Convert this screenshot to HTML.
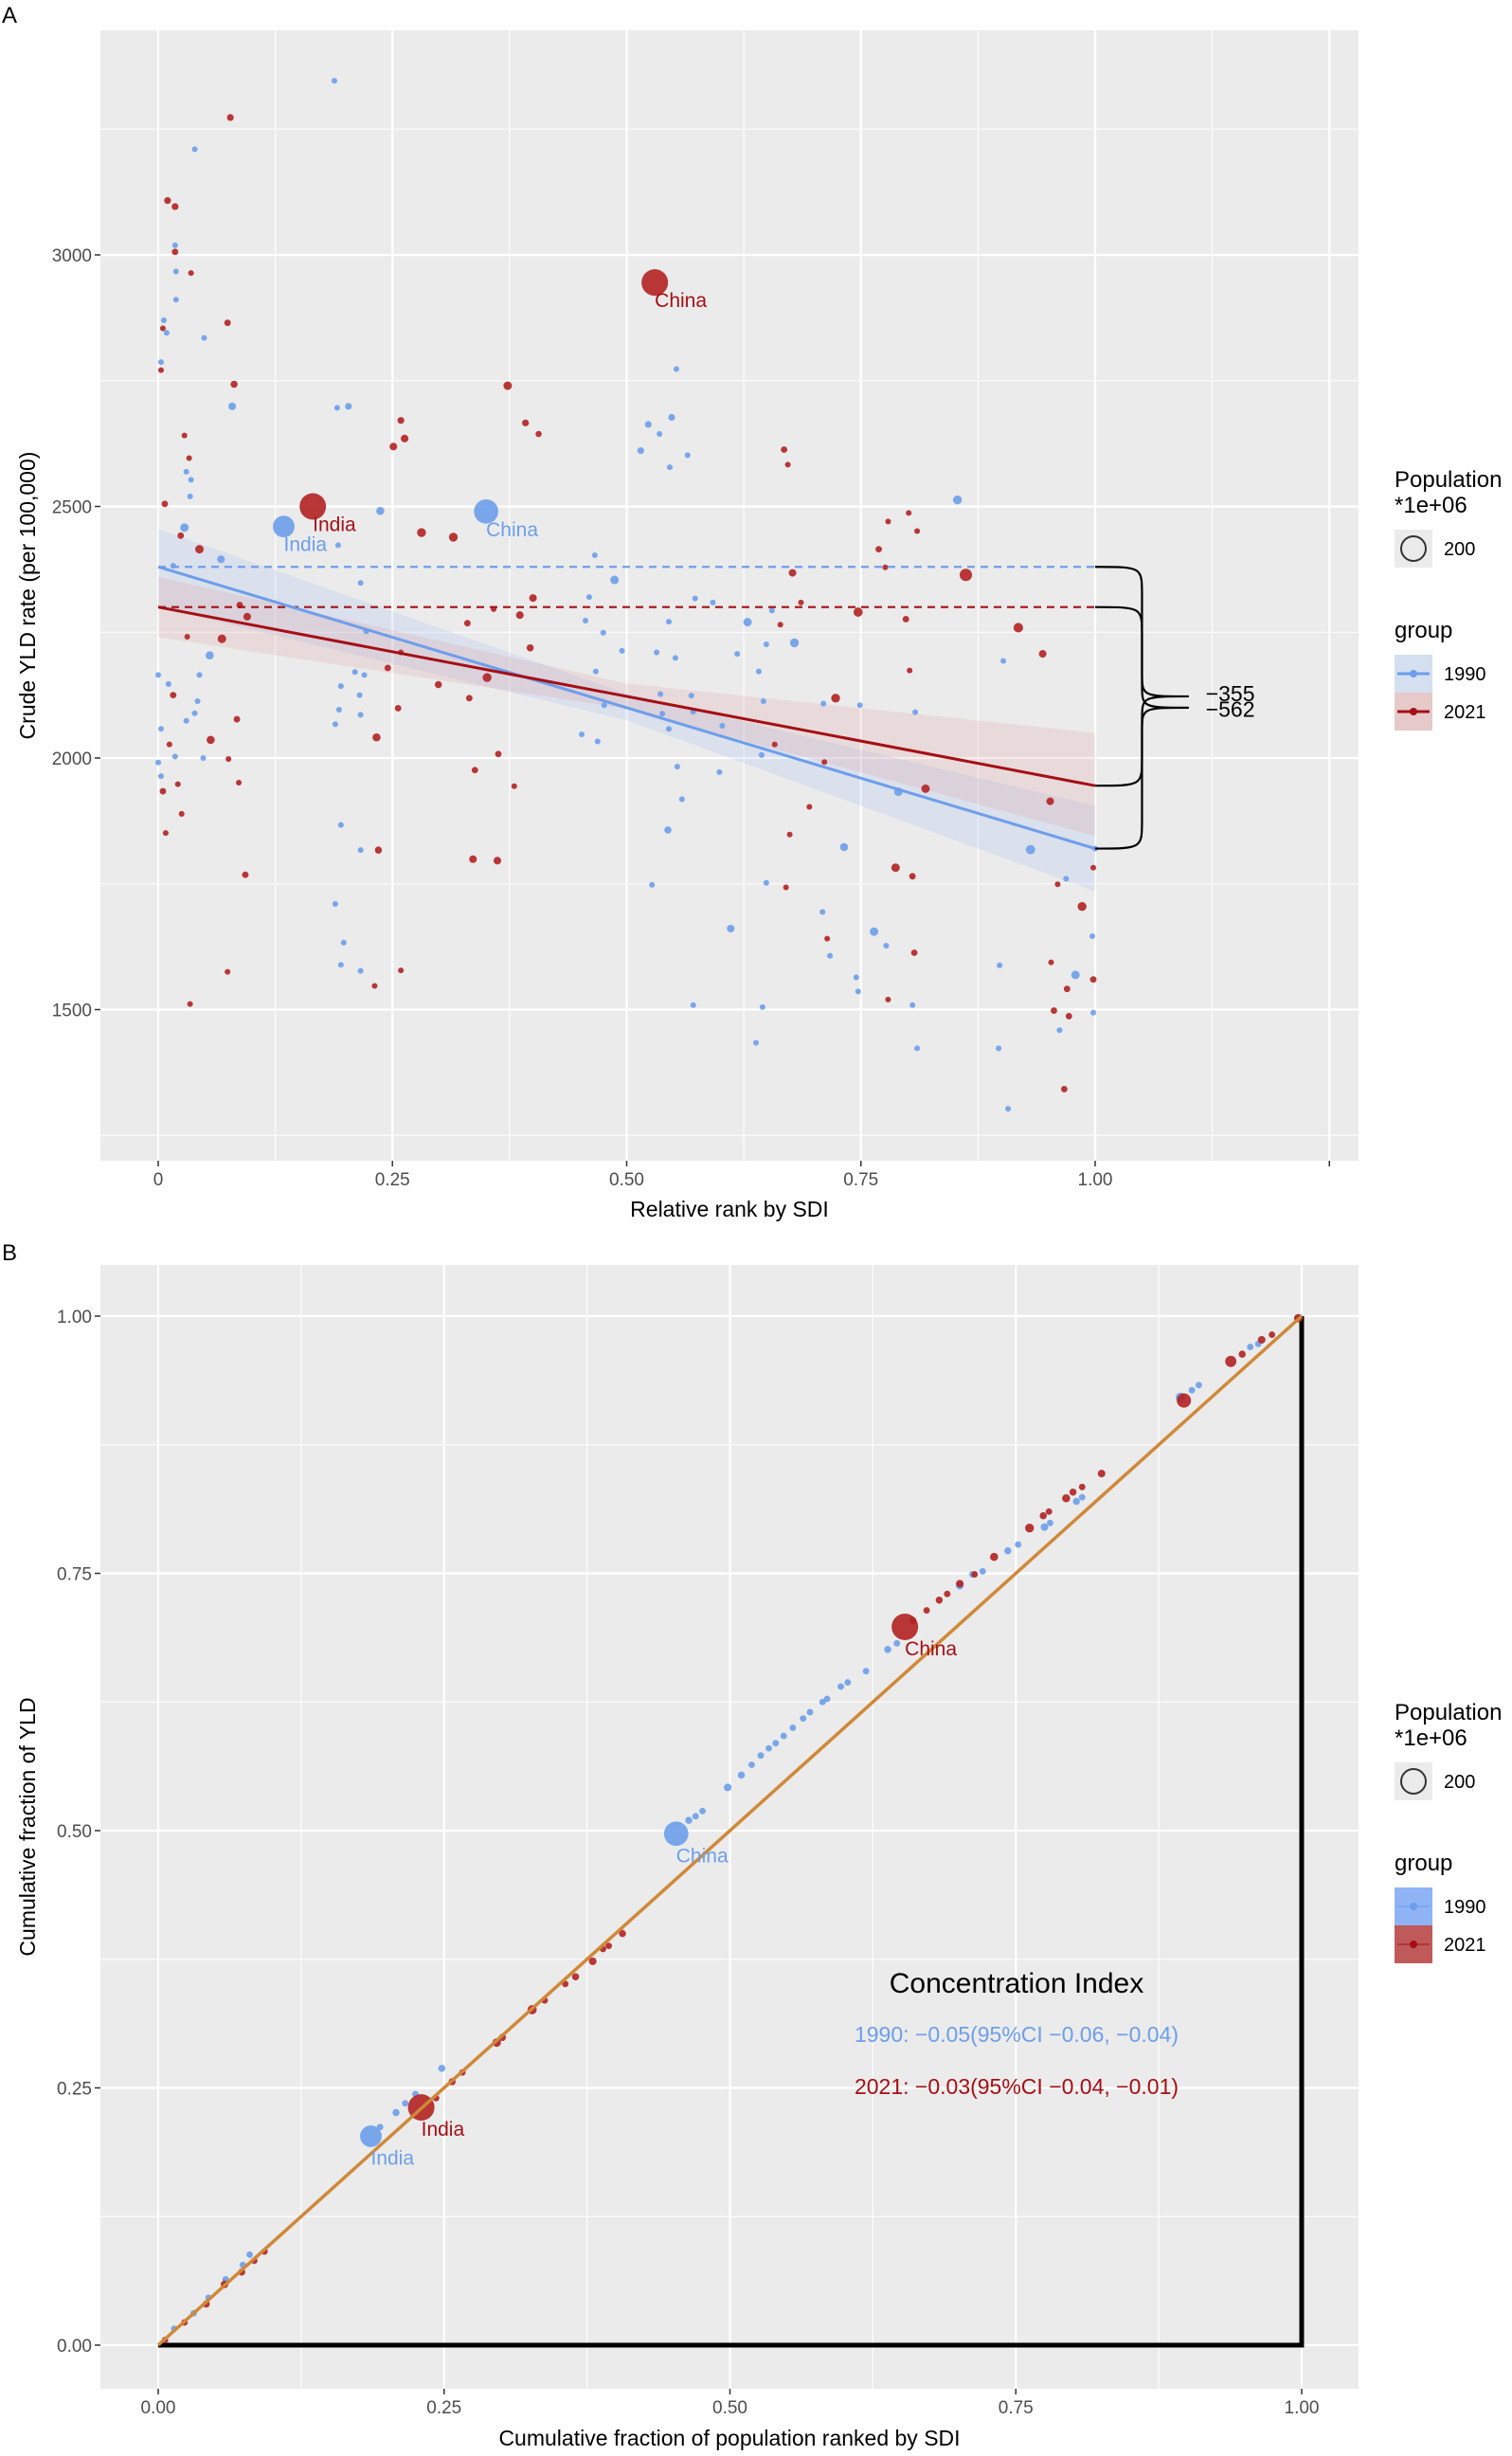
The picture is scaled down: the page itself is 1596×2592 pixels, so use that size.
<!DOCTYPE html>
<html><head><meta charset="utf-8">
<style>
html,body{margin:0;padding:0;background:#fff;}
svg{display:block;font-family:"Liberation Sans",sans-serif;}
</style></head>
<body>
<svg id="fig" width="1596" height="2592" viewBox="0 0 1596 2592" xmlns="http://www.w3.org/2000/svg">
<text x="2" y="24" font-size="24">A</text>
<text x="2" y="1330" font-size="24">B</text>
<g id="pa"></g>
<g id="pb"></g>
<g id="legA"></g>
<g id="legB"></g>
</svg>
<script>
// ---------- Panel A data ----------
const aRank1990=[.188,.039,.018,.019,.019,.006,.009,.049,.003,.079,.191,.203,.553,.548,.523,.535,.515,.565,.546,.030,.035,.034,.028,.853,.237,.192,.067,.016,.466,.487,.216,.460,.592,.629,.456,.475,.545,.573,.655,.532,.679,.649,.552,.495,.618,.641,.467,.055,.044,.222,.210,.220,.195,.193,.216,.189,.215,0,.011,.042,.039,.030,.003,.018,.003,.048,0,.452,.469,.569,.536,.476,.538,.545,.602,.571,.710,.749,.808,.646,.554,.599,.644,.790,.931,.732,.559,.544,.195,.216,.189,.198,.195,.216,.527,.649,.611,.709,.764,.777,.717,.745,.747,.805,.810,.638,.571,.645,.898,.979,.962,.969,.998,.997,.907,.897,.902,1.0,.134,.35];
const aRate1990=[3346,3210,3019,2967,2911,2870,2845,2835,2787,2699,2696,2699,2773,2677,2663,2644,2611,2602,2578,2569,2553,2520,2458,2513,2491,2423,2395,2382,2403,2354,2348,2320,2309,2270,2273,2249,2271,2317,2293,2210,2229,2226,2199,2213,2207,2172,2172,2204,2165,2252,2171,2165,2143,2096,2086,2067,2125,2165,2147,2113,2089,2074,2058,2003,1964,2000,1991,2047,2033,2124,2127,2105,2088,2058,2064,2092,2108,2105,2091,2113,1983,1972,2006,1933,1818,1823,1918,1857,1867,1817,1710,1633,1589,1577,1748,1752,1661,1694,1655,1627,1607,1564,1536,1509,1423,1434,1509,1505,1588,1569,1459,1760,1494,1646,1303,1423,2193,1820,2460,2490];
const aPop1990=[10,10,10,10,10,10,10,10,10,40,10,25,10,25,25,10,25,10,10,10,10,10,60,70,50,10,40,10,10,60,10,10,10,60,10,10,10,10,10,10,70,10,10,10,10,10,10,50,10,10,10,10,10,10,10,10,10,10,10,10,10,10,10,10,10,10,10,10,10,10,10,10,10,10,10,10,10,10,10,10,10,10,10,60,80,50,10,30,10,10,10,10,10,10,10,10,40,10,60,10,10,10,10,10,10,10,10,10,10,60,10,10,10,10,10,10,10,10,870,1150];
const aRank2021=[.077,.010,.018,.018,.035,.074,.005,.003,.081,.373,.392,.406,.259,.263,.251,.028,.033,.668,.672,.007,.024,.044,.281,.315,.779,.801,.810,.769,.677,.776,.862,.400,.087,.095,.358,.386,.747,.798,.918,.686,.664,.330,.068,.031,.944,.259,.397,.351,.245,.299,.332,.723,.802,.016,.084,.056,.012,.233,.256,.658,.075,.005,.021,.086,.338,.363,.711,.819,.952,.695,.025,.008,.235,.336,.362,.093,.787,.805,.670,.960,.986,.998,.807,.714,.074,.259,.231,.953,.970,.998,.956,.972,.779,.034,.967,.380,.674,.165,.53];
const aRate2021=[3273,3108,3096,3006,2964,2865,2854,2771,2743,2740,2666,2644,2671,2635,2619,2641,2596,2613,2583,2505,2442,2415,2448,2439,2470,2487,2451,2415,2368,2379,2364,2318,2304,2281,2296,2284,2290,2276,2259,2309,2265,2268,2237,2241,2207,2210,2219,2160,2179,2146,2119,2119,2174,2125,2077,2036,2027,2041,2099,2027,1998,1934,1948,1951,1976,2008,1992,1939,1914,1903,1889,1851,1817,1799,1796,1768,1782,1765,1743,1749,1705,1782,1613,1641,1575,1578,1547,1594,1541,1560,1498,1487,1520,1511,1342,1944,1848,2500,2945];
const aPop2021=[25,25,25,20,10,20,10,10,30,60,25,15,25,40,40,10,10,20,10,20,20,60,70,70,10,10,10,20,40,10,200,40,20,40,10,40,80,20,90,10,10,20,60,10,40,10,30,70,20,30,20,70,10,20,20,50,10,50,20,10,10,20,10,10,20,20,10,60,40,10,10,10,30,40,40,20,60,20,10,10,70,10,20,10,10,10,10,10,20,20,20,20,10,10,20,10,10,1400,1412];
const lineX=[0,1];
const fit1990=[2380,1820];
const fit2021=[2300,1945];
const ribX=[0,0.5,1];
const rib1990Lo=[2300,2075,1735], rib1990Hi=[2455,2128,1905];
const rib2021Lo=[2240,2098,1845], rib2021Hi=[2360,2148,2050];
const meanRate=[2380,2300];
const diffLabels=["\u2212355","\u2212562"];
const aXTicks=[0,0.25,0.5,0.75,1,1.25], aXTickLabels=["0","0.25","0.50","0.75","1.00",""];
const aYTicks=[1500,2000,2500,3000], aYTickLabels=["1500","2000","2500","3000"];

// ---------- Panel B data ----------
const bX1990=[.014,.031,.044,.059,.074,.080,.186,.194,.208,.216,.225,.248,.453,.464,.470,.476,.498,.510,.519,.527,.534,.540,.547,.555,.564,.570,.581,.585,.597,.603,.619,.638,.646,.701,.712,.721,.743,.752,.775,.780,.803,.808,.894,.904,.910,.955,.962,.997];
const bY1990=[.016,.031,.046,.064,.078,.088,.203,.212,.226,.235,.244,.269,.497,.510,.514,.519,.542,.554,.564,.573,.580,.585,.592,.600,.609,.615,.625,.628,.640,.644,.655,.676,.682,.738,.749,.752,.772,.778,.795,.799,.820,.824,.921,.928,.933,.970,.973,.998];
const bPop1990=[20,20,20,20,20,20,870,20,30,20,20,30,1150,30,20,20,40,30,20,20,20,20,20,20,20,20,20,20,20,20,20,30,20,40,20,20,30,20,40,20,30,20,90,20,20,20,20,20];
const bX2021=[.006,.023,.042,.058,.073,.084,.093,.230,.243,.257,.266,.296,.301,.327,.338,.356,.365,.380,.389,.394,.406,.653,.660,.672,.683,.690,.701,.714,.731,.762,.774,.779,.794,.800,.808,.825,.897,.938,.948,.965,.974,.997];
const bY2021=[.005,.022,.040,.059,.071,.082,.091,.231,.240,.256,.265,.294,.299,.326,.335,.351,.358,.373,.385,.388,.400,.698,.704,.714,.724,.730,.740,.749,.766,.794,.806,.810,.823,.829,.834,.847,.918,.956,.963,.977,.982,.998];
const bPop2021=[20,20,30,40,30,20,20,1400,20,30,20,60,30,80,20,20,30,40,20,20,30,1412,30,20,30,20,40,20,50,70,30,20,50,30,20,40,300,150,30,40,20,60];
const bTicks=[0,0.25,0.5,0.75,1], bTickLabels=["0.00","0.25","0.50","0.75","1.00"];
const ciLabels=["1990: \u22120.05(95%CI \u22120.06, \u22120.04)","2021: \u22120.03(95%CI \u22120.04, \u22120.01)"];

const NS="http://www.w3.org/2000/svg";
const BLUE="#6d9eeb", RED="#a50f15", REDPT="#b22222";
function mk(tag,attrs,parent){const e=document.createElementNS(NS,tag);for(const k in attrs)e.setAttribute(k,attrs[k]);parent.appendChild(e);return e;}
function rad(p){return 2.0+0.32*Math.sqrt(p);}

// ---------- Panel A ----------
const pa=document.getElementById('pa');
const AL=106,AR=1434,AT=32,AB=1225;
const ax=v=>167+v*989, ay=v=>800-(v-2000)*0.531;
let r=mk('rect',{x:AL,y:AT,width:AR-AL,height:AB-AT,fill:"#EBEBEB"},pa);


for(let v=1250;v<=3250;v+=250){const maj=v%500===0;let l=mk('line',{x1:AL,x2:AR,y1:ay(v),y2:ay(v),stroke:"#fff","stroke-width":maj?2.2:1.1},pa);

}
for(let v=-0.0;v<=1.26;v+=0.125){const maj=Math.abs(v*4-Math.round(v*4))<1e-6;let l=mk('line',{x1:ax(v),x2:ax(v),y1:AT,y2:AB,stroke:"#fff","stroke-width":maj?2.2:1.1},pa);

}
function ribbon(lo,hi,col,name){let d="M"+ribX.map((x,i)=>ax(x)+","+ay(hi[i])).join(" L")+" L"+ribX.slice().reverse().map((x,i)=>ax(x)+","+ay(lo[lo.length-1-i])).join(" L")+"Z";
let p=mk('path',{d:d,fill:col,"fill-opacity":0.18,stroke:"none"},pa);

}
ribbon(rib1990Lo,rib1990Hi,"#8fb3f2","ribbon-1990");
ribbon(rib2021Lo,rib2021Hi,"#e09090","ribbon-2021");
function pts(xs,ys,ps,col,name,g,fx,fy){xs.forEach((x,i)=>{let c=mk('circle',{cx:fx(x),cy:fy(ys[i]),r:rad(ps[i]),fill:col,"fill-opacity":0.9},g);

});}
pts(aRank1990,aRate1990,aPop1990,BLUE,"point-1990",pa,ax,ay);
pts(aRank2021,aRate2021,aPop2021,REDPT,"point-2021",pa,ax,ay);
[[meanRate[0],BLUE,"mean-line-1990"],[meanRate[1],RED,"mean-line-2021"]].forEach(m=>{let l=mk('line',{x1:ax(0),x2:ax(1),y1:ay(m[0]),y2:ay(m[0]),stroke:m[1],"stroke-width":2.2,"stroke-dasharray":"8,6"},pa);

});
let f1=mk('line',{x1:ax(lineX[0]),x2:ax(lineX[1]),y1:ay(fit1990[0]),y2:ay(fit1990[1]),stroke:BLUE,"stroke-width":3},pa);


let f2=mk('line',{x1:ax(lineX[0]),x2:ax(lineX[1]),y1:ay(fit2021[0]),y2:ay(fit2021[1]),stroke:RED,"stroke-width":3},pa);


function brace(top,bot,name){const x1=ax(1.0),x2=ax(1.05),x3=ax(1.1);const y1=ay(top),y2=ay(bot),ym=(y1+y2)/2;
const d=`M${x1},${y1} C${x2},${y1} ${x2},${y1} ${x2},${y1+30} L${x2},${ym-25} C${x2},${ym} ${x2},${ym} ${x3},${ym} C${x2},${ym} ${x2},${ym} ${x2},${ym+25} L${x2},${y2-30} C${x2},${y2} ${x2},${y2} ${x1},${y2}`;
let p=mk('path',{d:d,fill:"none",stroke:"#000","stroke-width":2.2},pa);

}
brace(meanRate[0],fit1990[1],"brace-1990");
brace(meanRate[1],fit2021[1],"brace-2021");
let t1=mk('text',{x:ax(1.118),y:ay(2128)+8,"font-size":23},pa);t1.textContent=diffLabels[0];


let t2=mk('text',{x:ax(1.118),y:ay(2097)+8,"font-size":23},pa);t2.textContent=diffLabels[1];


[["China",0.53,2945,RED,"china-label-2021"],["India",0.165,2500,RED,"india-label-2021"],["China",0.35,2490,BLUE,"china-label-1990"],["India",0.134,2460,BLUE,"india-label-1990"]].forEach(a=>{let t=mk('text',{x:ax(a[1]),y:ay(a[2])+26,"font-size":21,fill:a[3]},pa);t.textContent=a[0];

});
aXTicks.forEach((v,i)=>{mk('line',{x1:ax(v),x2:ax(v),y1:AB,y2:AB+6,stroke:"#333","stroke-width":1.5},pa);
let t=mk('text',{x:ax(v),y:AB+26,"font-size":19,fill:"#4d4d4d","text-anchor":"middle"},pa);t.textContent=aXTickLabels[i];

});
aYTicks.forEach((v,i)=>{mk('line',{x1:AL-6,x2:AL,y1:ay(v),y2:ay(v),stroke:"#333","stroke-width":1.5},pa);
let t=mk('text',{x:AL-9,y:ay(v)+7,"font-size":19,fill:"#4d4d4d","text-anchor":"end"},pa);t.textContent=aYTickLabels[i];

});
let xt=mk('text',{x:(AL+AR)/2,y:1284,"font-size":23,"text-anchor":"middle"},pa);xt.textContent="Relative rank by SDI";


let yt=mk('text',{x:0,y:0,"font-size":23,"text-anchor":"middle",transform:`translate(37,${(AT+AB)/2}) rotate(-90)`},pa);yt.textContent="Crude YLD rate (per 100,000)";



// ---------- Panel B ----------
const pb=document.getElementById('pb');
const BL=106,BR=1434,BT=1335,BB=2521;
const bx=v=>167+v*1207, by=v=>2475-v*1086;
let rb=mk('rect',{x:BL,y:BT,width:BR-BL,height:BB-BT,fill:"#EBEBEB"},pb);


for(let v=0;v<=1.0001;v+=0.125){const maj=Math.abs(v*4-Math.round(v*4))<1e-6;
let l=mk('line',{x1:BL,x2:BR,y1:by(v),y2:by(v),stroke:"#fff","stroke-width":maj?2.2:1.1},pb);


let l2=mk('line',{x1:bx(v),x2:bx(v),y1:BT,y2:BB,stroke:"#fff","stroke-width":maj?2.2:1.1},pb);

}
let tri=mk('path',{d:`M${bx(0)},${by(0)} L${bx(1)},${by(0)} L${bx(1)},${by(1)}`,fill:"none",stroke:"#000","stroke-width":5},pb);


pts(bX1990,bY1990,bPop1990,BLUE,"curve-point-1990",pb,bx,by);
pts(bX2021,bY2021,bPop2021,REDPT,"curve-point-2021",pb,bx,by);
let dg=mk('line',{x1:bx(0),y1:by(0),x2:bx(1),y2:by(1),stroke:"#d08838","stroke-width":3.5},pb);


[["China",0.653,0.698,RED,"b-china-label-2021"],["India",0.230,0.231,RED,"b-india-label-2021"],["China",0.453,0.497,BLUE,"b-china-label-1990"],["India",0.186,0.203,BLUE,"b-india-label-1990"]].forEach(a=>{let t=mk('text',{x:bx(a[1]),y:by(a[2])+30,"font-size":21,fill:a[3]},pb);t.textContent=a[0];

});
let ct=mk('text',{x:1073,y:2103,"font-size":30,"text-anchor":"middle"},pb);ct.textContent="Concentration Index";


let c1=mk('text',{x:1073,y:2155,"font-size":23,"text-anchor":"middle",fill:BLUE},pb);c1.textContent=ciLabels[0];


let c2=mk('text',{x:1073,y:2210,"font-size":23,"text-anchor":"middle",fill:RED},pb);c2.textContent=ciLabels[1];


bTicks.forEach((v,i)=>{mk('line',{x1:bx(v),x2:bx(v),y1:BB,y2:BB+6,stroke:"#333","stroke-width":1.5},pb);
let t=mk('text',{x:bx(v),y:BB+26,"font-size":19,fill:"#4d4d4d","text-anchor":"middle"},pb);t.textContent=bTickLabels[i];


mk('line',{x1:BL-6,x2:BL,y1:by(v),y2:by(v),stroke:"#333","stroke-width":1.5},pb);
let t2=mk('text',{x:BL-9,y:by(v)+7,"font-size":19,fill:"#4d4d4d","text-anchor":"end"},pb);t2.textContent=bTickLabels[i];

});
let bxt=mk('text',{x:(BL+BR)/2,y:2581,"font-size":23,"text-anchor":"middle"},pb);bxt.textContent="Cumulative fraction of population ranked by SDI";


let byt=mk('text',{x:0,y:0,"font-size":23,"text-anchor":"middle",transform:`translate(37,${(BT+BB)/2}) rotate(-90)`},pb);byt.textContent="Cumulative fraction of YLD";



// ---------- Legends ----------
function legend(g,y0,style){
 const X=1472;
 const T=(txt,x,y,s,name)=>{let t=mk('text',{x:x,y:y,"font-size":s},g);t.textContent=txt;
 
 };
 T("Population",X,y0,24,"legend-population-title");
 T("*1e+06",X,y0+27,24,"legend-population-unit");
 mk('rect',{x:X,y:y0+45,width:40,height:40,fill:"#EBEBEB"},g);
 mk('circle',{cx:X+20,cy:y0+65,r:13,fill:"none",stroke:"#333","stroke-width":2},g);
 T("200",X+52,y0+72,20,"legend-size-200");
 T("group",X,y0+159,24,"legend-group-title");
 [["1990",BLUE,"#d4dff0",y0+177],["2021",RED,"#e6c9c9",y0+217]].forEach(k=>{
  let bg=style==="A"?k[2]:(k[0]==="1990"?"#8fb3f5":"#c05a5a");
  let rr=mk('rect',{x:X,y:k[3],width:40,height:40,fill:bg},g);
  
  
  mk('line',{x1:X+3,x2:X+37,y1:k[3]+20,y2:k[3]+20,stroke:k[1],"stroke-width":style==="A"?3:1},g);
  mk('circle',{cx:X+20,cy:k[3]+20,r:4,fill:k[1]},g);
  T(k[0],X+52,k[3]+27,20,"legend-label-"+k[0]);
 });
}
legend(document.getElementById('legA'),514,"A");
legend(document.getElementById('legB'),1815,"B");
</script>
</body></html>
